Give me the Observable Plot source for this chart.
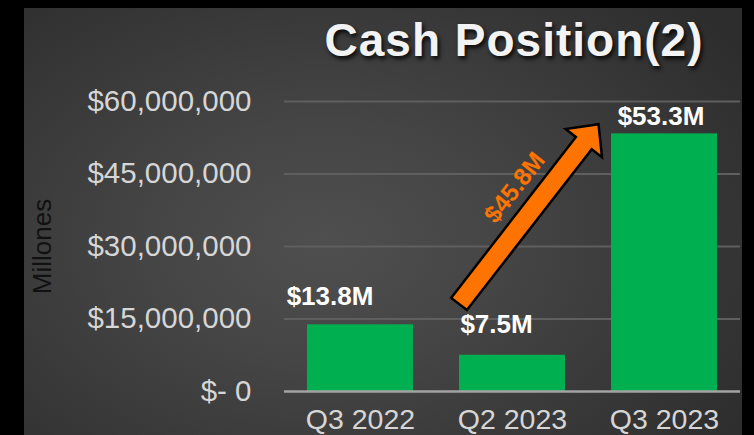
<!DOCTYPE html>
<html>
<head>
<meta charset="utf-8">
<script src="https://cdn.jsdelivr.net/npm/d3@7"></script>
<script src="https://cdn.jsdelivr.net/npm/@observablehq/plot@0.6"></script>
<style>
  html, body { margin: 0; padding: 0; background: #000; }
  #wrap { position: relative; width: 754px; height: 435px; overflow: hidden; background: #000;
          font-family: "Liberation Sans", Arial, Helvetica, sans-serif; }
  #panel { position: absolute; left: 24px; top: 8px; width: 718px; height: 427px;
           background: radial-gradient(ellipse 70% 80% at 42% 55%, #4f4f4f 0%, #454545 35%, #383838 70%, #2d2d2d 100%); }
  #title { position: absolute; left: 264px; width: 500px; top: 17px; text-align: center;
           font-size: 46px; line-height: 46px; font-weight: bold; letter-spacing: 1px; color: #f3f3f3;
           text-shadow: 2px 3px 4px rgba(0,0,0,0.85); white-space: nowrap; }
  #chart { position: absolute; left: 0; top: 0; }
</style>
</head>
<body>
<div id="wrap">
  <div id="panel"></div>
  <div id="chart"></div>
  <div id="title"></div>
</div>
<script>
const chartTitle = "Cash Position(2)";
const yAxisTitle = "Millones";
const categories = ["Q3 2022", "Q2 2023", "Q3 2023"];
const cashValues = [13.8e6, 7.5e6, 53.3e6];
const barLabels = ["$13.8M", "$7.5M", "$53.3M"];
const yTicks = [0, 15e6, 30e6, 45e6, 60e6];
const yTickLabels = ["$- 0", "$15,000,000", "$30,000,000", "$45,000,000", "$60,000,000"];
const arrowFrom = ["Q2 2023", 18.0e6];
const arrowTo = ["Q3 2023", 55.2e6];
const arrowLabel = "$45.8M";

const data = categories.map((c, i) => ({cat: c, value: cashValues[i], label: barLabels[i]}));

document.getElementById("title").textContent = chartTitle;

function arrowMark(index, scales) {
  const x = scales.x, y = scales.y;
  const T = [x(arrowFrom[0]), y(arrowFrom[1])];
  const P = [x(arrowTo[0]) - 12.5, y(arrowTo[1])];
  const dx = P[0] - T[0], dy = P[1] - T[1];
  const len = Math.hypot(dx, dy);
  const u = [dx / len, dy / len];
  const n = [-u[1], u[0]];
  const w = 10, hw = 23, hl = 24;
  const B = [P[0] - u[0] * hl, P[1] - u[1] * hl];
  const pt = (p, k) => [p[0] + n[0] * k, p[1] + n[1] * k];
  const pts = [pt(T, -w), pt(B, -w), pt(B, -hw), P, pt(B, hw), pt(B, w), pt(T, w)];
  const g = d3.create("svg:g");
  g.append("path")
    .attr("d", "M" + pts.map(p => p[0].toFixed(1) + "," + p[1].toFixed(1)).join("L") + "Z")
    .attr("fill", "#ff7300").attr("stroke", "#000").attr("stroke-width", 2.5).attr("stroke-linejoin", "miter");
  const ang = Math.atan2(dy, dx) * 180 / Math.PI;
  const along = 126, perp = 28;
  const side = (n[1] > 0) ? 1 : -1;
  const C = [T[0] + u[0] * along - side * n[0] * perp, T[1] + u[1] * along - side * n[1] * perp];
  g.append("text")
    .attr("transform", `translate(${C[0].toFixed(1)},${C[1].toFixed(1)}) rotate(${ang.toFixed(1)})`)
    .attr("text-anchor", "middle").attr("dy", "0.35em")
    .attr("fill", "#ff7400").attr("font-weight", "bold").attr("font-size", 24.5)
    .attr("font-family", "Liberation Sans, Arial, sans-serif")
    .text(arrowLabel);
  return g.node();
}

const labelOffsets = [[-30.5, -28], [-16, -31], [-3.5, -17]];

const plot = Plot.plot({
  width: 754,
  height: 435,
  marginLeft: 284,
  marginRight: 14,
  marginTop: 101,
  marginBottom: 44,
  style: {background: "transparent", fontFamily: "Liberation Sans, Arial, sans-serif", fontSize: "28.5px", color: "#d6d6d6", overflow: "visible"},
  x: {domain: categories, paddingInner: 0.3, paddingOuter: 0.15, tickSize: 0, tickPadding: 17, label: null},
  y: {domain: [0, 60e6], ticks: yTicks, tickFormat: d => yTickLabels[yTicks.indexOf(d)], tickSize: 0, tickPadding: 33, label: null},
  marks: [
    Plot.ruleY(yTicks.filter(d => d > 0), {stroke: "#5f5f5f", strokeWidth: 2}),
    Plot.barY(data, {x: "cat", y: "value", fill: "#00b050"}),
    Plot.ruleY([0], {stroke: "#a3a3a3", strokeWidth: 2.5}),
    ...data.map((d, i) => Plot.text([d], {
      x: "cat", y: "value", text: "label",
      dx: labelOffsets[i][0], dy: labelOffsets[i][1],
      fill: "#ffffff", fontWeight: "bold", fontSize: 26
    })),
    Plot.text([yAxisTitle], {frameAnchor: "left", textAnchor: "middle", text: d => d, dx: -242, rotate: -90, fontSize: 26, fill: "#111111"}),
    arrowMark
  ]
});
plot.querySelectorAll('g[aria-label^="y-axis"]').forEach(g => { g.style.fontSize = "29.5px"; });
document.getElementById("chart").appendChild(plot);
</script>
</body>
</html>
